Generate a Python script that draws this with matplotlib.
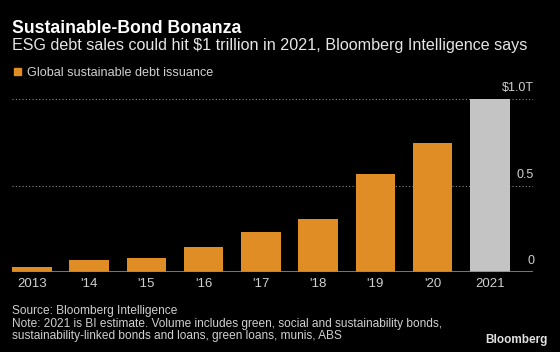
import matplotlib
matplotlib.use('Agg')
import matplotlib.pyplot as plt
from matplotlib import transforms

plt.rcParams['font.family'] = ['Liberation Sans', 'DejaVu Sans']

years = ['2013', "'14", "'15", "'16", "'17", "'18", "'19", "'20", '2021']
issuance = [0.025, 0.066, 0.08, 0.145, 0.232, 0.304, 0.565, 0.745, 1.0]
estimate = [False] * 8 + [True]
yticks = [0, 0.5, 1.0]
ytick_labels = ['0', '0.5', '$1.0T']

orange = '#e08d26'
grey_bar = '#c4c4c4'
txt = '#d0d0d0'
W, H = 560, 352

fig = plt.figure(figsize=(5.6, 3.52), dpi=100, facecolor='black')
ax = fig.add_axes([12 / W, 1 - 271.7 / H, (533 - 12) / W, (271.7 - 99.3) / H])
ax.set_facecolor('black')

colors = [grey_bar if e else orange for e in estimate]
ax.bar(range(len(years)), issuance, width=0.693, color=colors, zorder=3)
ax.set_xlim(-0.347, len(years) - 1 + 0.754)
ax.set_ylim(0, 1.0)

for y in yticks[1:]:
    ax.axhline(y, color='#8a8a8a', lw=0.8, ls=(0, (1, 2)), zorder=1)
ax.axhline(0, color='#8c8c8c', lw=1.2, zorder=4)

for s in ax.spines.values():
    s.set_visible(False)
ax.set_yticks([])
ax.set_xticks(range(len(years)))
ax.set_xticklabels(years, color=txt, fontsize=9.5)
ax.tick_params(axis='x', length=0, pad=4.8)

tr = transforms.blended_transform_factory(ax.transAxes, ax.transData)
off = transforms.offset_copy(tr, fig=fig, x=1, y=8, units='dots')
for y, lab in zip(yticks, ytick_labels):
    ax.text(1.0, y, lab, transform=off, ha='right', va='baseline',
            color=txt, fontsize=9, clip_on=False)

def ftext(x, y, s, **kw):
    fig.text(x / W, 1 - y / H, s, va='baseline', **kw)

ftext(12, 32.7, 'Sustainable-Bond Bonanza', color='white', fontsize=12.7, fontweight='bold')
ftext(12, 50, 'ESG debt sales could hit $1 trillion in 2021, Bloomberg Intelligence says',
      color='#e6e6e6', fontsize=11.6)
fig.patches.append(plt.Rectangle((14 / W, 1 - 75.3 / H), 7 / W, 7 / H, color=orange,
                                 transform=fig.transFigure, figure=fig))
ftext(26.7, 76, 'Global sustainable debt issuance', color=txt, fontsize=9.05)

ftext(12, 314, 'Source: Bloomberg Intelligence', color=txt, fontsize=8.6)
ftext(12, 327.3, 'Note: 2021 is BI estimate. Volume includes green, social and sustainability bonds,',
      color=txt, fontsize=8.6)
ftext(12, 339.3, 'sustainability-linked bonds and loans, green loans, munis, ABS',
      color=txt, fontsize=8.6)
fig.text(548 / W, 1 - 343.3 / H, 'Bloomberg', ha='right', va='baseline', color='#e0e0e0',
         fontsize=8.5, fontweight='bold')

fig.savefig('out.png', dpi=100, facecolor='black')
